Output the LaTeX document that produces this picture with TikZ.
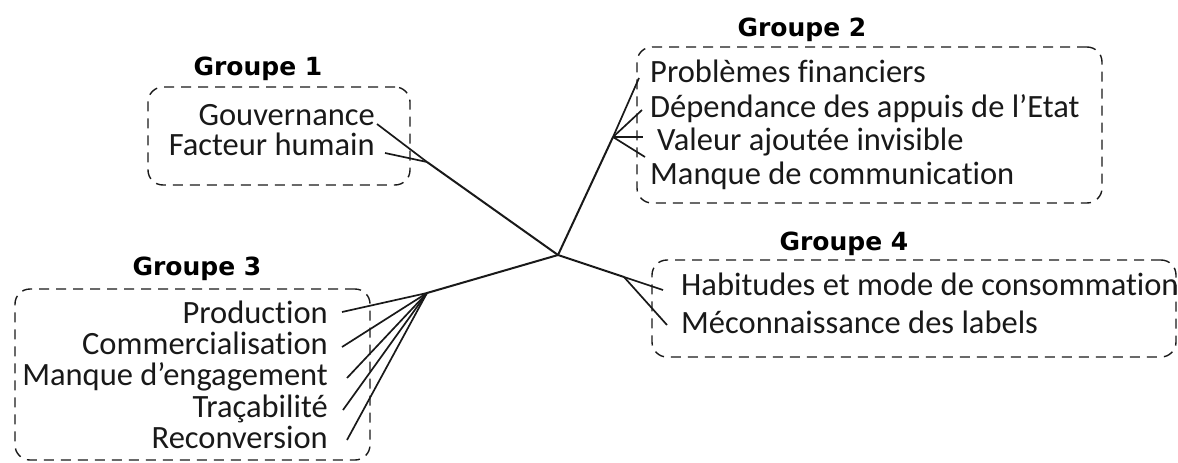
\documentclass[tikz,border=0pt]{standalone}
\usepackage{fontspec}
\setmainfont[Ligatures={NoCommon,NoContextual}]{Carlito}
\newfontfamily\titlefont[BoldFont={DejaVu Sans Bold}]{DejaVu Sans}
\begin{document}
\begin{tikzpicture}[x=1pt,y=-1pt,
  item/.style={font=\fontsize{32.5}{34}\selectfont, inner sep=0pt, text=black!90},
  ttl/.style={font=\titlefont\bfseries\fontsize{25}{28}\selectfont, inner sep=0pt, anchor=base},
  grp/.style={draw=black!90, dash pattern=on 10pt off 7pt, line width=1.4pt, rounded corners=15pt, inner sep=0pt},
  trunk/.style={draw=black!90, line width=2pt},
  twig/.style={draw=black!90, line width=1.7pt}]
\useasboundingbox (0,0) rectangle (1178,463);

% boxes
\node[grp, minimum width=262pt, minimum height=98pt] (b1) at (279,136) {};
\node[grp, minimum width=465pt, minimum height=156pt] (b2) at (869.5,125) {};
\node[grp, minimum width=355pt, minimum height=171pt] (b3) at (192.5,374.5) {};
\node[grp, minimum width=524pt, minimum height=97pt] (b4) at (914,308.5) {};

% titles
\node[ttl] (t1) at (258,75) {Groupe 1};
\node[ttl] (t2) at (802,36) {Groupe 2};
\node[ttl] (t3) at (197,275) {Groupe 3};
\node[ttl] (t4) at (844,250) {Groupe 4};

% group 1 items
\node[item, anchor=base east] (gouv) at (375,125) {Gouvernance};
\node[item, anchor=base east] (fact) at (375,155) {Facteur humain};
% group 2 items
\node[item, anchor=base west] (prob) at (650,82) {Problèmes financiers};
\node[item, anchor=base west] (dep)  at (650,117) {Dépendance des appuis de l’Etat};
\node[item, anchor=base west] (val)  at (657,150) {Valeur ajoutée invisible};
\node[item, anchor=base west] (man)  at (650,184) {Manque de communication};
% group 3 items
\node[item, anchor=base east] (prod) at (328,323) {Production};
\node[item, anchor=base east] (comm) at (328,354) {Commercialisation};
\node[item, anchor=base east] (eng)  at (328,385) {Manque d’engagement};
\node[item, anchor=base east] (trac) at (328,417) {Traçabilité};
\node[item, anchor=base east] (reco) at (328,448) {Reconversion};
% group 4 items
\node[item, anchor=base west] (hab) at (681,295) {Habitudes et mode de consommation};
\node[item, anchor=base west] (mec) at (681,333) {Méconnaissance des labels};

% junctions
\coordinate (c)  at (558,255);
\coordinate (j1) at (427,162);
\coordinate (j2) at (613,137);
\coordinate (j3) at (427,293);
\coordinate (j4) at (624,277);

% trunks
\draw[trunk] (c) -- (j1);
\draw[trunk] (c) -- (j2);
\draw[trunk] (c) -- (j3);
\draw[trunk] (c) -- (j4);

% twigs group 1
\draw[twig] (j1) -- ([shift={(2,-1)}]gouv.base east);
\draw[twig] (j1) -- ([shift={(10,-2)}]fact.base east);
% twigs group 2
\draw[twig] (j2) -- ([shift={(-11,-4)}]prob.base west);
\draw[twig] (j2) -- ([shift={(-8,-7)}]dep.base west);
\draw[twig] (j2) -- ([shift={(-14,-13)}]val.base west);
\draw[twig] (j2) -- ([shift={(-5,-27)}]man.base west);
% twigs group 3
\draw[twig] (j3) -- ([shift={(14,-11)}]prod.base east);
\draw[twig] (j3) -- ([shift={(14,-7)}]comm.base east);
\draw[twig] (j3) -- ([shift={(19,-7)}]eng.base east);
\draw[twig] (j3) -- ([shift={(15,-7)}]trac.base east);
\draw[twig] (j3) -- ([shift={(19,-8)}]reco.base east);
% twigs group 4
\draw[twig] (j4) -- ([shift={(-18,-5)}]hab.base west);
\draw[twig] (j4) -- ([shift={(-14,-8)}]mec.base west);
\end{tikzpicture}
\end{document}
